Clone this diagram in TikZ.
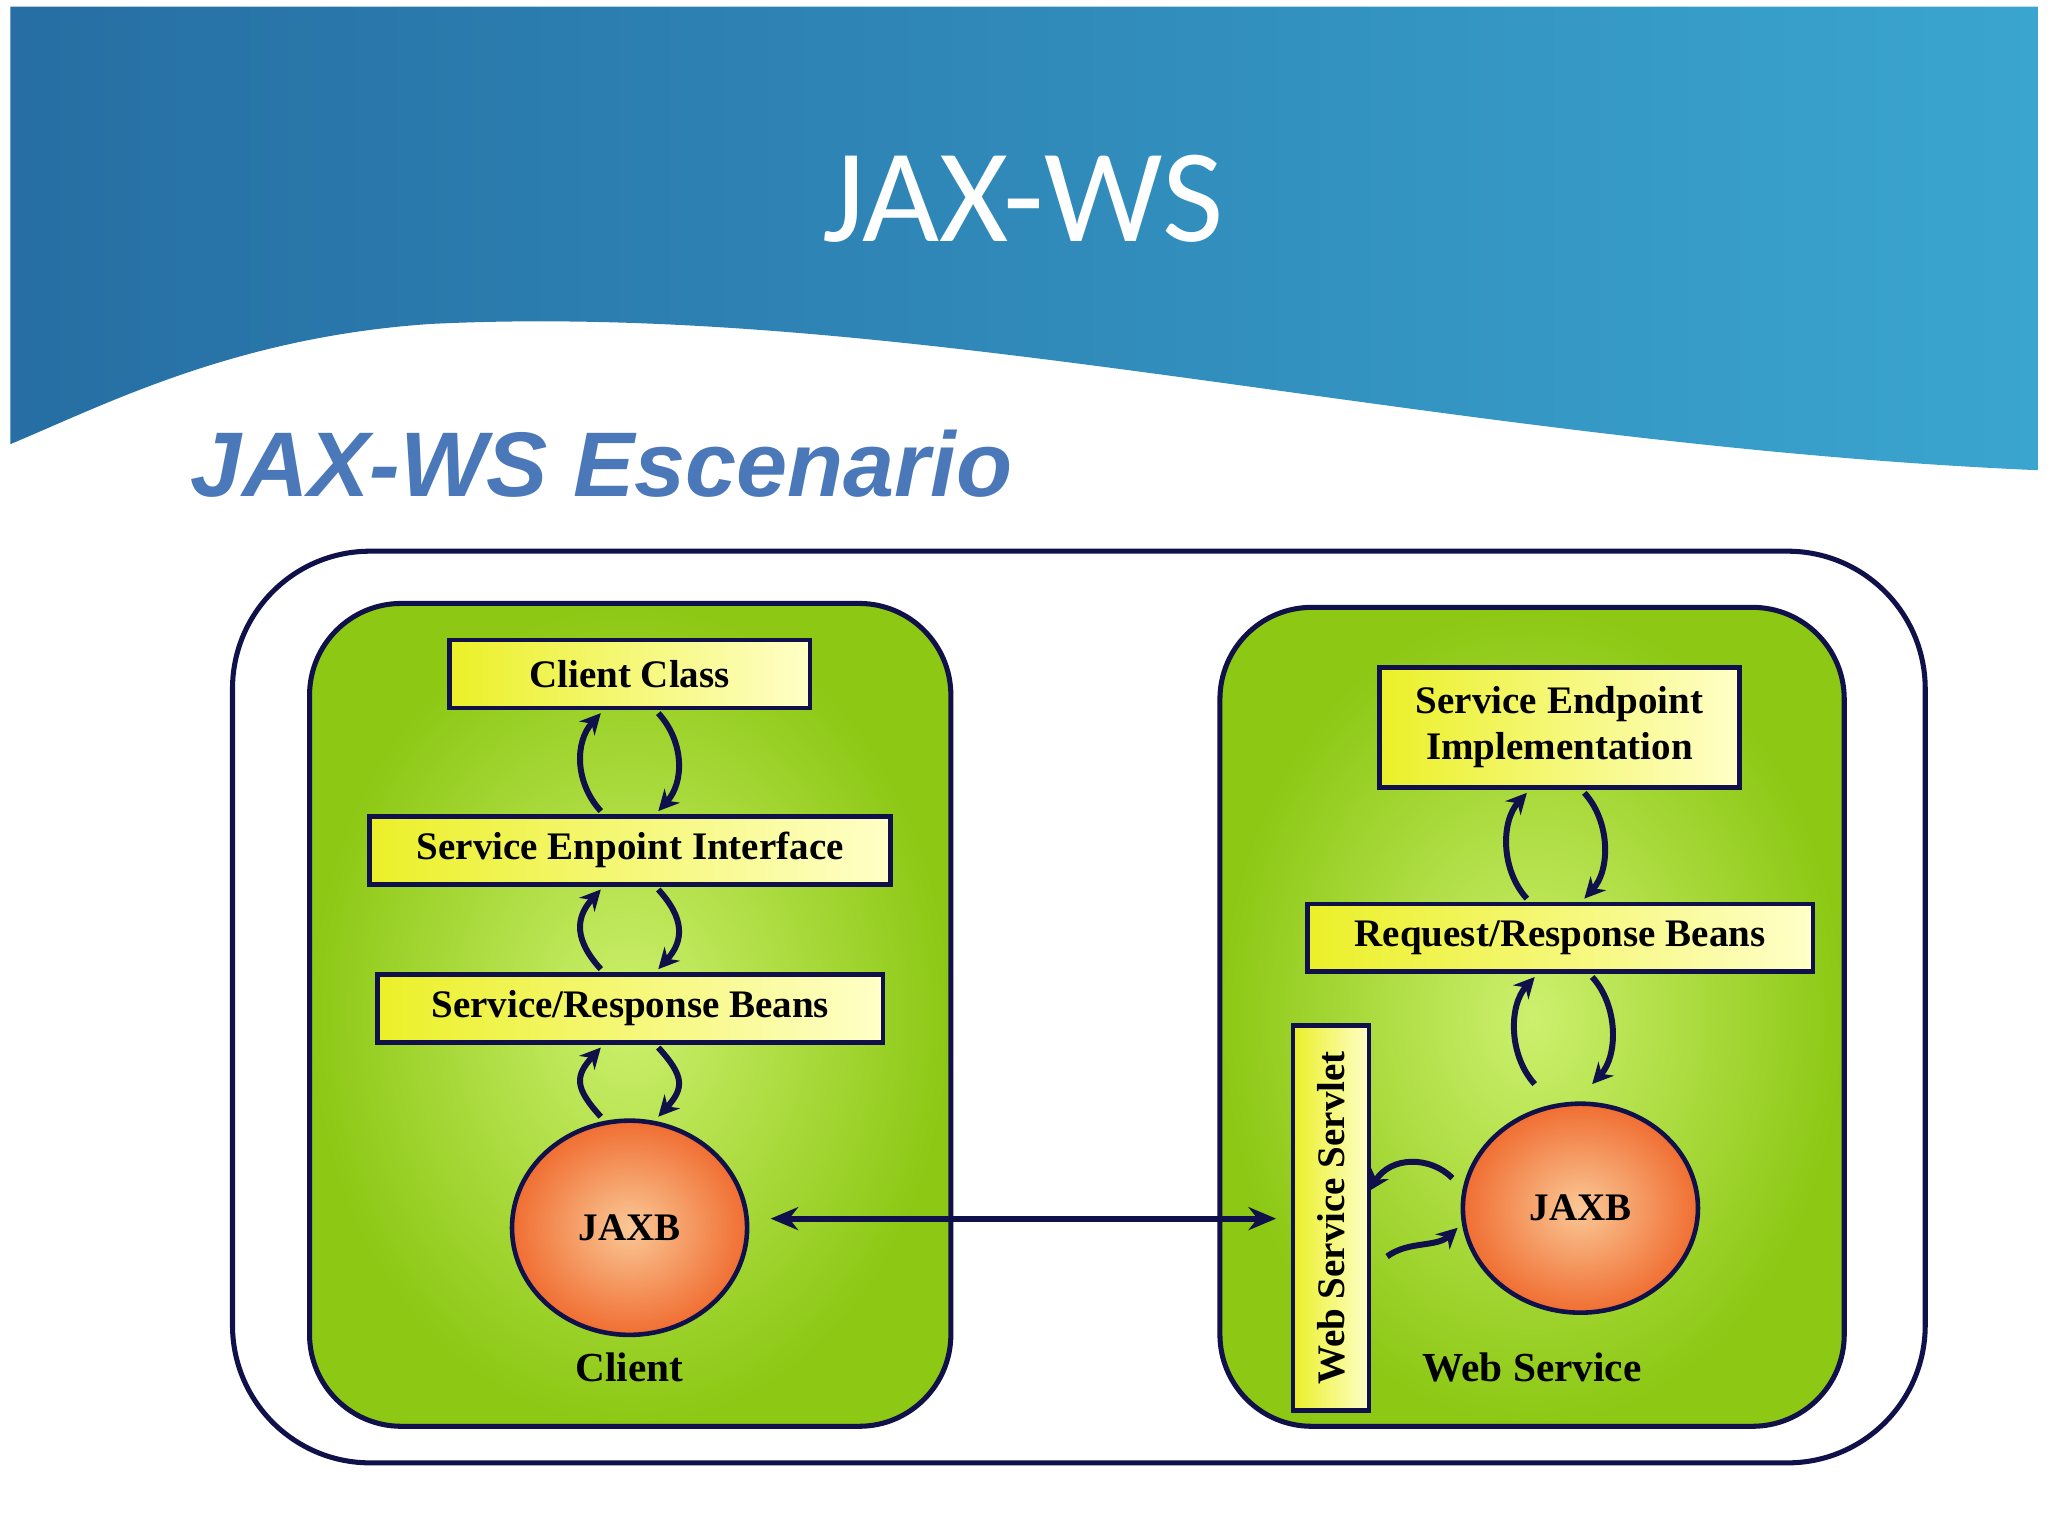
\documentclass[tikz,border=0pt]{standalone}
\usepackage{fontspec}
\setmainfont{Liberation Serif}
\newfontfamily\titlefont{Carlito}
\newfontfamily\subfont{Liberation Sans}
\usetikzlibrary{arrows.meta,shapes.geometric}
\definecolor{navy}{HTML}{10104A}
\definecolor{subblue}{HTML}{4A78B8}
\tikzset{
 greenbox/.style={draw=navy,line width=2.2pt,rounded corners=40pt,inner color={rgb,255:red,205;green,240;blue,110},outer color={rgb,255:red,140;green,200;blue,20}},
 ybox/.style={draw=navy,line width=2pt,left color={rgb,255:red,235;green,240;blue,40},right color={rgb,255:red,255;green,255;blue,200},font=\bfseries\fontsize{17}{20}\selectfont,align=center,inner sep=0pt},
 jaxb/.style={draw=navy,line width=2pt,ellipse,inner color={rgb,255:red,250;green,200;blue,150},outer color={rgb,255:red,240;green,110;blue,50},font=\bfseries\fontsize{17}{20}\selectfont,inner sep=0pt},
 carr/.style={navy,line width=2.6pt,-{Stealth[length=9pt,width=9pt]}},
 lbl/.style={font=\bfseries\fontsize{18}{20}\selectfont}
}
\begin{document}
\begin{tikzpicture}[x=0.02cm,y=-0.02cm]
\useasboundingbox (0,0) rectangle (1568,1176);
\fill[white] (0,0) rectangle (1568,1176);
% header
\shade[left color={rgb,255:red,38;green,110;blue,163},right color={rgb,255:red,58;green,165;blue,207}]
 (8,5) -- (1560,5) -- (1560,360) .. controls (1100,340) and (700,230) .. (330,248) .. controls (180,258) and (80,310) .. (8,340) -- cycle;
\node[white,font=\titlefont\fontsize{58}{60}\selectfont] (title) at (783,152) {JAX-WS};
\node[subblue,font=\subfont\bfseries\itshape\fontsize{40}{44}\selectfont,anchor=west] (sub) at (140,355) {JAX-WS Escenario};
% outer
\node[draw=navy,line width=2.2pt,rounded corners=60pt,minimum width={1296*0.02cm},minimum height={698*0.02cm}] (outer) at (826,771) {};
\node[greenbox,minimum width={491*0.02cm},minimum height={630*0.02cm}] (lg) at (482.5,777) {};
\node[greenbox,minimum width={478*0.02cm},minimum height={627*0.02cm}] (rg) at (1173,778.5) {};
% left
\node[ybox,minimum width={276*0.02cm},minimum height={52*0.02cm}] (cc) at (482,516) {Client Class};
\node[ybox,minimum width={399*0.02cm},minimum height={52*0.02cm}] (sei) at (482.5,651) {Service Enpoint Interface};
\node[ybox,minimum width={387*0.02cm},minimum height={52*0.02cm}] (srb) at (482.5,772) {Service/Response Beans};
\node[jaxb,minimum width={180*0.02cm},minimum height={164*0.02cm}] (jl) at (482,940) {JAXB};
\node[lbl] (client) at (482,1047) {Client};
% right
\node[ybox,minimum width={276*0.02cm},minimum height={92*0.02cm}] (sep) at (1194,557) {Service Endpoint\\Implementation};
\node[ybox,minimum width={387*0.02cm},minimum height={52*0.02cm}] (rrb) at (1194.5,718) {Request/Response Beans};
\node[ybox,minimum width={295*0.02cm},minimum height={58*0.02cm},rotate=90] (ws) at (1019,932.5) {Web Service Servlet};
\node[jaxb,minimum width={180*0.02cm},minimum height={160*0.02cm}] (jr) at (1210,925) {JAXB};
\node[lbl] (wsl) at (1173,1047) {Web Service};
% main arrow
\coordinate (a1) at (590,933);
\coordinate (a2) at (977,933);
\draw[navy,line width=2.6pt,{Stealth[length=12pt,width=10pt]}-{Stealth[length=12pt,width=10pt]}] (a1) -- (a2);
% curved pairs
\foreach \cx/\ya/\yb in {482/546/621, 482/681/742, 482/802/855, 1191/607/688, 1197/748/830}{
 \draw[carr] (\cx-22,\yb) .. controls (\cx-42,\yb-22) and (\cx-42,\ya+22) .. (\cx-22,\ya);
 \draw[carr] (\cx+22,\ya) .. controls (\cx+42,\ya+22) and (\cx+42,\yb-22) .. (\cx+22,\yb);
}
\draw[carr] (1112,902) .. controls (1095,885) and (1065,885) .. (1048,912);
\draw[carr] (1062,962) .. controls (1078,950) and (1100,955) .. (1116,940);
\end{tikzpicture}
\end{document}
